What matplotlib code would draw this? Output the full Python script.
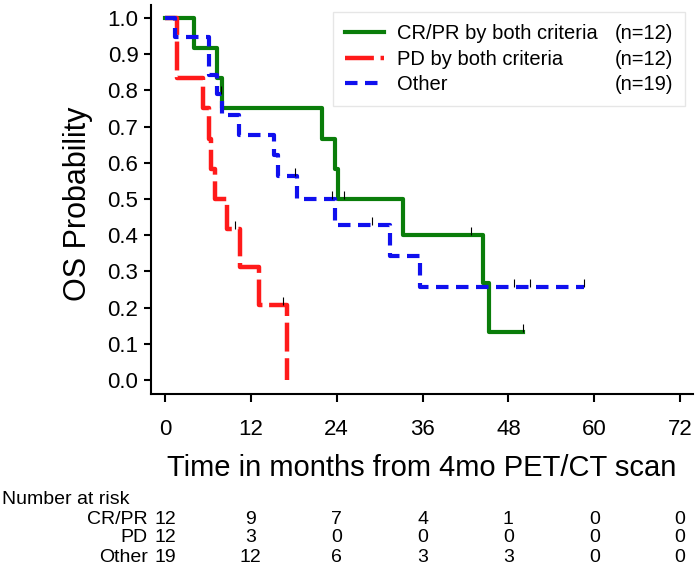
import numpy as np
import matplotlib
matplotlib.use('Agg')
import matplotlib.pyplot as plt
import matplotlib.transforms as mtransforms

plt.rcParams['font.family'] = ['Liberation Sans', 'DejaVu Sans']

# Kaplan-Meier steps (time in months, survival after step)
cr_t = [0, 4.0, 7.2, 8.0, 21.9, 23.7, 24.2, 33.3, 44.4, 45.3, 50.0]
cr_s = [1.0, 0.917, 0.833, 0.75, 0.667, 0.583, 0.5, 0.4, 0.267, 0.133, 0.133]
cr_ct = [25.0, 42.8, 50.0]
cr_cs = [0.5, 0.4, 0.133]

pd_t = [0, 1.7, 5.3, 6.1, 6.5, 7.0, 8.6, 10.5, 13.1, 17.0]
pd_s = [1.0, 0.833, 0.75, 0.667, 0.583, 0.5, 0.417, 0.3125, 0.208, 0.0]
pd_ct = [9.8, 16.5]
pd_cs = [0.417, 0.208]

ot_t = [0, 1.4, 6.1, 7.2, 8.0, 10.4, 15.2, 15.8, 18.4, 23.7, 31.4, 35.6, 58.6]
ot_s = [1.0, 0.947, 0.842, 0.789, 0.733, 0.677, 0.621, 0.564, 0.501, 0.429, 0.343, 0.257, 0.257]
ot_ct = [7.8, 18.2, 23.3, 29.0, 48.8, 51.0, 58.6]
ot_cs = [0.789, 0.564, 0.5, 0.429, 0.257, 0.257, 0.257]

names = ['CR/PR by both criteria', 'PD by both criteria', 'Other']
ns = ['(n=12)', '(n=12)', '(n=19)']

xticks = [0, 12, 24, 36, 48, 60, 72]
risk_labels = ['CR/PR', 'PD', 'Other']
risk_cr = [12, 9, 7, 4, 1, 0, 0]
risk_pd = [12, 3, 0, 0, 0, 0, 0]
risk_ot = [19, 12, 6, 3, 3, 0, 0]

fig = plt.figure(figsize=(6.97, 5.66), dpi=100)
ax = fig.add_axes([0.2166, 0.3039, 0.7776, 0.6873])

l1, = ax.step(cr_t, cr_s, where='post', color='#0a7d0a', lw=3.0)
l2, = ax.step(pd_t, pd_s, where='post', color='#ff1a1a', lw=3.2, dashes=(6.5, 1.5))
l3, = ax.step(ot_t, ot_s, where='post', color='#1010ee', lw=3.0, dashes=(3.0, 1.8))

for ct, cs in [(cr_ct, cr_cs), (pd_ct, pd_cs), (ot_ct, ot_cs)]:
    ax.vlines(ct, np.array(cs), np.array(cs) + 0.022, color='k', lw=0.8, zorder=5)

ax.set_xlim(-1.96, 73.8)
ax.set_ylim(-0.039, 1.036)
ax.set_xticks(xticks)
ax.set_yticks(np.arange(0, 1.01, 0.1))
ax.set_yticklabels(['%.1f' % v for v in np.arange(0, 1.01, 0.1)])
ax.spines['top'].set_visible(False)
ax.spines['right'].set_visible(False)
ax.spines['left'].set_linewidth(1.5)
ax.spines['bottom'].set_linewidth(1.5)
ax.tick_params(axis='y', direction='out', length=5, width=1.5, pad=4, labelsize=16)
ax.tick_params(axis='x', direction='out', length=6, width=1.5, pad=12, labelsize=16)

ax.set_xlabel('Time in months from 4mo PET/CT scan', fontsize=21, labelpad=10)
ax.set_ylabel('OS Probability', fontsize=22)
ax.yaxis.set_label_coords(-0.107, 0.488)

leg = ax.legend([l1, l2, l3], names, loc='upper left', mode='expand',
                bbox_to_anchor=(0.336, 0.743, 0.649, 0.239), borderaxespad=0,
                fontsize=14.5, handlelength=1.95, handletextpad=0.6,
                labelspacing=0.33, borderpad=0.6, fancybox=False,
                edgecolor='#e6e6e6', framealpha=1)
leg.get_frame().set_linewidth(1.0)

fig.canvas.draw()
inv = ax.transAxes.inverted()
for txt, n in zip(leg.get_texts(), ns):
    bb = txt.get_window_extent()
    yc = inv.transform((0, (bb.y0 + bb.y1) / 2))[1]
    ax.text(0.856, yc, n, transform=ax.transAxes, ha='left', va='center',
            fontsize=14.5, zorder=10)

# number at risk table
trans = mtransforms.blended_transform_factory(ax.transData, fig.transFigure)
fig.text(0.003, 1 - 499 / 566, 'Number at risk', ha='left', va='center', fontsize=14)
rows_y = [1 - 519 / 566, 1 - 538 / 566, 1 - 557 / 566]
for lab, vals, yy in zip(risk_labels, [risk_cr, risk_pd, risk_ot], rows_y):
    fig.text(0.212, yy, lab, ha='right', va='center', fontsize=14)
    for xv, v in zip(xticks, vals):
        ax.text(xv, yy, str(v), transform=trans, ha='center', va='center', fontsize=14)

fig.savefig('out.png', dpi=100)
